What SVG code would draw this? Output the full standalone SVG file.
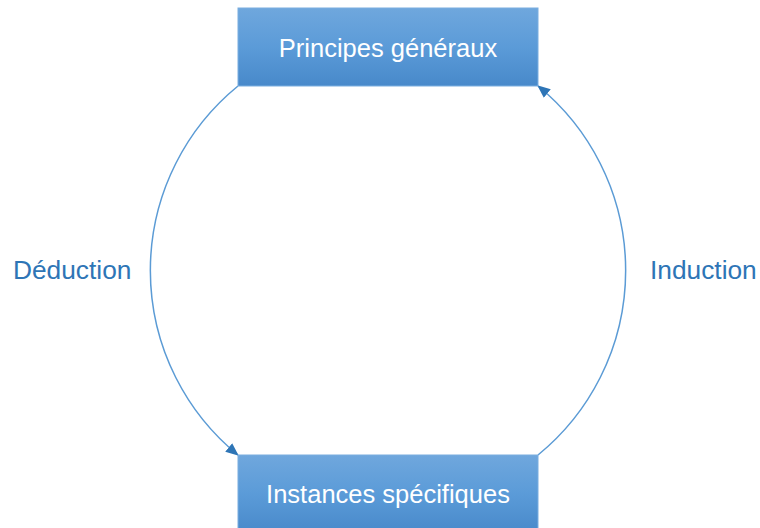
<svg xmlns="http://www.w3.org/2000/svg" width="760" height="528" viewBox="0 0 760 528">
  <style>
    .box { fill: url(#boxGrad); stroke: #7AAEE0; stroke-width: 1; }
    .boxText { font-family: "Liberation Sans", Arial, sans-serif; font-size: 25.5px; fill: #FFFFFF; text-anchor: middle; }
    .label { font-family: "Liberation Sans", Arial, sans-serif; font-size: 26.3px; fill: #2E75B6; }
    .arc { fill: none; stroke: #5B9BD5; stroke-width: 1.5; }
  </style>
  <defs>
    <linearGradient id="boxGrad" x1="0" y1="0" x2="0" y2="1">
      <stop offset="0" stop-color="#6FA7DD"/>
      <stop offset="0.5" stop-color="#5B9BD8"/>
      <stop offset="1" stop-color="#4889CA"/>
    </linearGradient>
    <marker id="arrow" markerUnits="userSpaceOnUse" markerWidth="14" markerHeight="12" refX="12" refY="5.5" orient="auto">
      <path d="M0,0 L13,5.5 L0,11 Z" fill="#2E75B6"/>
    </marker>
  </defs>
  <rect width="760" height="528" fill="#FFFFFF"/>
  <g id="connectors">
    <path class="arc" d="M238,86 A238,238 0 0,0 238,455" marker-end="url(#arrow)"/>
    <path class="arc" d="M538,455 A238,238 0 0,0 538,86" marker-end="url(#arrow)"/>
  </g>
  <g id="node-principes">
    <rect class="box" x="238" y="8" width="300" height="78"/>
    <text class="boxText" x="388" y="57">Principes généraux</text>
  </g>
  <g id="node-instances">
    <rect class="box" x="238" y="455" width="300" height="78"/>
    <text class="boxText" x="388" y="503">Instances spécifiques</text>
  </g>
  <g id="label-deduction">
    <text class="label" x="13" y="279">Déduction</text>
  </g>
  <g id="label-induction">
    <text class="label" x="650" y="279">Induction</text>
  </g>
</svg>
